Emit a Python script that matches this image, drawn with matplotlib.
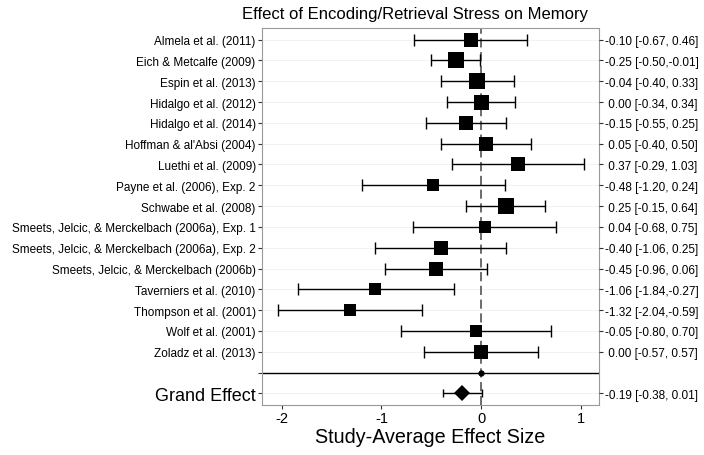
import matplotlib
matplotlib.use("Agg")
import matplotlib.pyplot as plt

plt.rcParams["font.family"] = ["Liberation Sans", "DejaVu Sans"]

studies = [
    "Almela et al. (2011)",
    "Eich & Metcalfe (2009)",
    "Espin et al. (2013)",
    "Hidalgo et al. (2012)",
    "Hidalgo et al. (2014)",
    "Hoffman & al'Absi (2004)",
    "Luethi et al. (2009)",
    "Payne et al. (2006), Exp. 2",
    "Schwabe et al. (2008)",
    "Smeets, Jelcic, & Merckelbach (2006a), Exp. 1",
    "Smeets, Jelcic, & Merckelbach (2006a), Exp. 2",
    "Smeets, Jelcic, & Merckelbach (2006b)",
    "Taverniers et al. (2010)",
    "Thompson et al. (2001)",
    "Wolf et al. (2001)",
    "Zoladz et al. (2013)",
]
effect = [-0.10, -0.25, -0.04, 0.00, -0.15, 0.05, 0.37, -0.48, 0.25,
          0.04, -0.40, -0.45, -1.06, -1.32, -0.05, 0.00]
lower = [-0.67, -0.50, -0.40, -0.34, -0.55, -0.40, -0.29, -1.20, -0.15,
         -0.68, -1.06, -0.96, -1.84, -2.04, -0.80, -0.57]
upper = [0.46, -0.01, 0.33, 0.34, 0.25, 0.50, 1.03, 0.24, 0.64,
         0.75, 0.25, 0.06, -0.27, -0.59, 0.70, 0.57]
# square side in pixels (study weight)
weight_px = [14, 16, 15.3, 15, 14.7, 14.7, 13.3, 12.7, 15.3,
             12.7, 14, 14, 12.3, 12.7, 12, 14]

grand_label = "Grand Effect"
grand_effect = -0.19
grand_lower = -0.38
grand_upper = 0.01

px = 72 / 100.0

fig = plt.figure(figsize=(7.04, 4.56), dpi=100)
ax = fig.add_axes([262 / 704, 1 - 406 / 456, (599 - 262) / 704, (406 - 29) / 456])

n = len(studies)
rows = list(range(n))
sep_row = n
grand_row = n + 1

# faint horizontal grid
for r in range(n + 2):
    ax.axhline(r, color="#f0f0f0", lw=0.6, zorder=0)

ax.axvline(0, color="#444444", lw=1.1, ls=(0, (6, 3)), zorder=1)

for i in rows:
    ax.errorbar(effect[i], i, xerr=[[effect[i] - lower[i]], [upper[i] - effect[i]]],
                fmt="none", ecolor="black", elinewidth=1.0, capsize=4, capthick=1.0, zorder=2)
    ax.plot(effect[i], i, marker="s", color="black", markersize=weight_px[i] * px,
            markeredgewidth=0, zorder=3)

ax.errorbar(grand_effect, grand_row,
            xerr=[[grand_effect - grand_lower], [grand_upper - grand_effect]],
            fmt="none", ecolor="black", elinewidth=1.0, capsize=3, capthick=1.0, zorder=2)
ax.plot(grand_effect, grand_row, marker="D", color="black", markersize=11.5 * px,
        markeredgewidth=0, zorder=3)

ax.axhline(sep_row, color="black", lw=1.0, zorder=2)
ax.plot(0, sep_row, marker="o", color="black", markersize=3.5, zorder=3)

ax.set_xlim(-2.2, 1.185)
ax.set_ylim(grand_row + 0.56, -0.56)
ax.set_xticks([-2, -1, 0, 1])
ax.set_xticklabels(["-2", "-1", "0", "1"])
ax.tick_params(axis="x", labelsize=10.5, length=3, width=0.8, color="#333333", pad=1.5)

left_labels = studies + ["", grand_label]
ax.set_yticks(list(range(n + 2)))
ax.set_yticklabels(left_labels)
ax.tick_params(axis="y", labelsize=8.5, length=3, width=0.8, color="#333333", pad=1.5)
ax.get_yticklabels()[grand_row].set_fontsize(13)

for s in ax.spines.values():
    s.set_color("#999999")
    s.set_linewidth(0.8)

ax2 = ax.twinx()
ax2.set_ylim(ax.get_ylim())
right_pos = rows + [grand_row]
right_labels = ["%5.2f [%5.2f,%5.2f]" % (e, lo, hi) for e, lo, hi in zip(effect, lower, upper)]
right_labels.append("%5.2f [%5.2f,%5.2f]" % (grand_effect, grand_lower, grand_upper))
ax2.set_yticks(right_pos)
ax2.set_yticklabels(right_labels)
ax2.tick_params(axis="y", labelsize=8.5, length=3, width=0.8, color="#333333", pad=1)
for s in ax2.spines.values():
    s.set_visible(False)

ax.set_xlabel("Study-Average Effect Size", fontsize=14.2, labelpad=1.5)
fig.text(415 / 704, 1 - 14 / 456, "Effect of Encoding/Retrieval Stress on Memory",
         fontsize=12, ha="center", va="center")

fig.savefig("out.png", dpi=100)
